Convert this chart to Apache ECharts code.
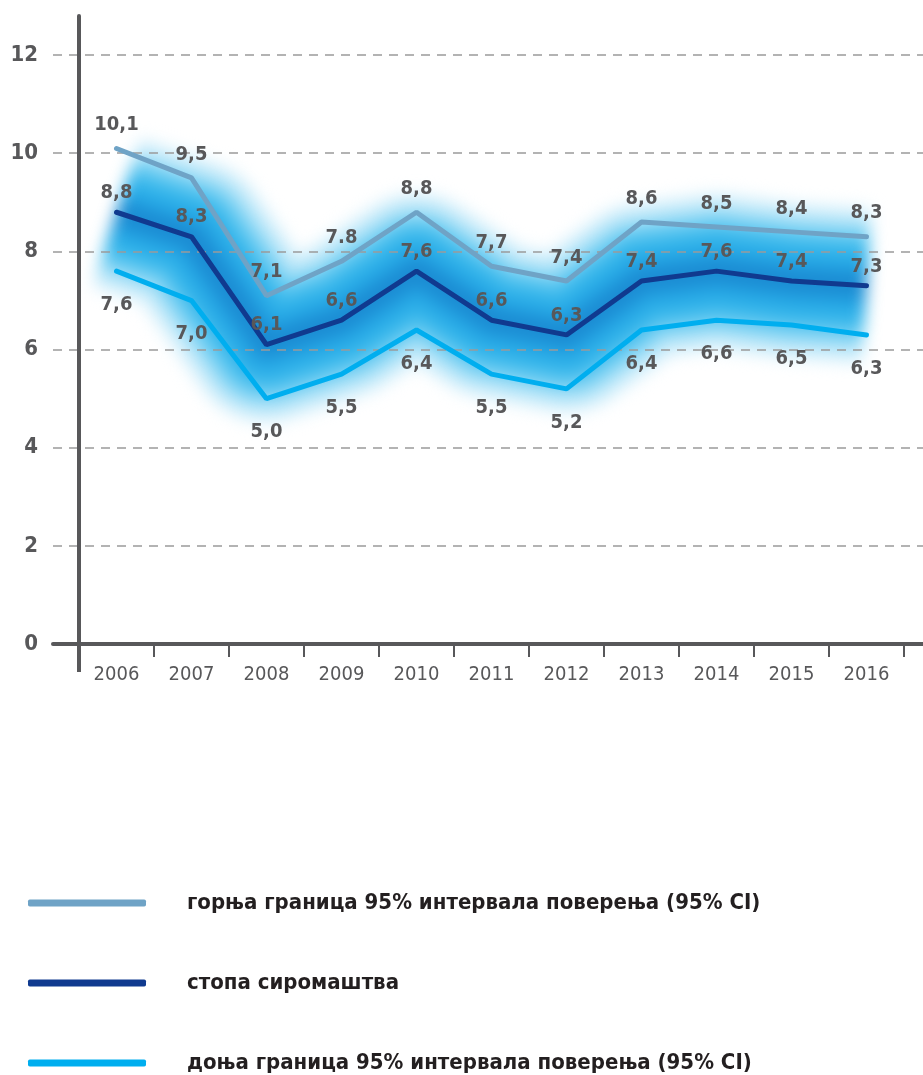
<!DOCTYPE html>
<html>
<head>
<meta charset="utf-8">
<script src="https://cdn.jsdelivr.net/npm/echarts@6/dist/echarts.min.js"></script>
<style>
html,body{margin:0;padding:0;background:#fff;}
#wrap{position:relative;width:923px;height:1075px;}
#glow,#chart{position:absolute;left:0;top:0;width:923px;height:1075px;}
#glow{filter:blur(8px);}
</style>
</head>
<body>
<div id="wrap">
<div id="glow"></div>
<div id="chart"></div>
</div>
<script>
// ---- data ----
const years = ['2006','2007','2008','2009','2010','2011','2012','2013','2014','2015','2016'];
const upperCI = [10.1, 9.5, 7.1, 7.8, 8.8, 7.7, 7.4, 8.6, 8.5, 8.4, 8.3];
const povertyRate = [8.8, 8.3, 6.1, 6.6, 7.6, 6.6, 6.3, 7.4, 7.6, 7.4, 7.3];
const lowerCI = [7.6, 7.0, 5.0, 5.5, 6.4, 5.5, 5.2, 6.4, 6.6, 6.5, 6.3];
const upperLabels = ['10,1','9,5','7,1','7.8','8,8','7,7','7,4','8,6','8,5','8,4','8,3'];
const yTicks = [0, 2, 4, 6, 8, 10, 12];
const seriesNames = ['горња граница 95% интервала поверења (95% CI)', 'стопа сиромаштва', 'доња граница 95% интервала поверења (95% CI)'];

const FONT = "'Liberation Sans Narrow','DejaVu Sans Condensed','Open Sans',sans-serif";
const GREY = '#58585a';
const fmt = v => v.toFixed(1).replace('.', ',');

const gridMain = {left: 79, right: 19, top: 16, bottom: 431};
const catAxis = {type: 'category', data: years, boundaryGap: true};
const yMain = {type: 'value', min: 0, max: 12.8};

// ---- glow band (separate blurred layer, same scales) ----
const glow = echarts.init(document.getElementById('glow'));
const glowLayers = [
  [156, '#d6f0fb'],
  [132, '#a6e0f7'],
  [108, '#66caf1'],
  [82, '#35b6eb'],
  [54, '#25a7e5'],
  [26, '#1b8cd3']
];
glow.setOption({
  animation: false,
  grid: gridMain,
  xAxis: Object.assign({}, catAxis, {show: false}),
  yAxis: Object.assign({}, yMain, {show: false}),
  series: glowLayers.map(([w, c]) => ({
    type: 'line', data: povertyRate, symbol: 'none', silent: true,
    lineStyle: {width: w, color: c, cap: 'butt', join: 'round'}
  }))
});

// ---- main chart ----
const chart = echarts.init(document.getElementById('chart'));
const labelStyle = {show: true, color: GREY, fontFamily: FONT, fontWeight: 'bold', fontSize: 20};

function ciSeries(name, data, color, label) {
  return {
    name: name, type: 'line', xAxisIndex: 0, yAxisIndex: 0, data: data,
    symbol: 'circle', symbolSize: 1, showSymbol: true, z: 6,
    itemStyle: {color: color},
    lineStyle: {width: 5, color: color, cap: 'round'},
    label: Object.assign({}, labelStyle, label),
    emphasis: {disabled: true}
  };
}

chart.setOption({
  animation: false,
  grid: [
    gridMain,
    {left: 53, right: 0, top: 55, bottom: 431}
  ],
  xAxis: [
    Object.assign({}, catAxis, {
      gridIndex: 0,
      axisLine: {show: false},
      axisTick: {show: true, length: 13, lineStyle: {color: GREY, width: 2}},
      axisLabel: {color: GREY, fontFamily: FONT, fontSize: 20, margin: 21},
      splitLine: {show: false}
    }),
    {
      type: 'value', gridIndex: 1, min: 0, max: 1,
      axisLine: {show: true, onZero: false, lineStyle: {color: GREY, width: 4}},
      axisTick: {show: false}, axisLabel: {show: false}, splitLine: {show: false}, z: 5
    }
  ],
  yAxis: [
    Object.assign({}, yMain, {
      gridIndex: 0,
      axisLine: {show: true, lineStyle: {color: GREY, width: 4}},
      axisTick: {show: false}, axisLabel: {show: false}, splitLine: {show: false}, z: 5
    }),
    {
      type: 'value', gridIndex: 1, min: yTicks[0], max: yTicks[yTicks.length - 1], interval: 2,
      axisLine: {show: false}, axisTick: {show: false},
      axisLabel: {color: GREY, fontFamily: FONT, fontWeight: 'bold', fontSize: 22, margin: 15},
      splitLine: {show: true, lineStyle: {color: '#9a9a9a', width: 1.5, type: [9, 7]}},
      z: 3
    }
  ],
  legend: {
    orient: 'vertical', left: 28, top: 892, padding: 0, itemWidth: 118, itemHeight: 7, itemGap: 58,
    icon: 'roundRect',
    data: seriesNames,
    textStyle: {color: '#231f20', fontFamily: FONT, fontWeight: 'bold', fontSize: 22, lineHeight: 22, padding: [0, 0, 0, 36]},
    selectedMode: false
  },
  graphic: [
    {type: 'line', shape: {x1: 79, y1: 644, x2: 79, y2: 672}, style: {stroke: GREY, lineWidth: 4}, z: 10}
  ],
  series: [
    ciSeries(seriesNames[0], upperCI, '#6fa3c6', {position: 'top', distance: 13, formatter: p => upperLabels[p.dataIndex]}),
    ciSeries(seriesNames[1], povertyRate, '#103a8f', {position: 'top', distance: 9, formatter: p => fmt(p.value)}),
    ciSeries(seriesNames[2], lowerCI, '#00aeef', {position: 'bottom', distance: 23, formatter: p => fmt(p.value)})
  ]
});
</script>
</body>
</html>
